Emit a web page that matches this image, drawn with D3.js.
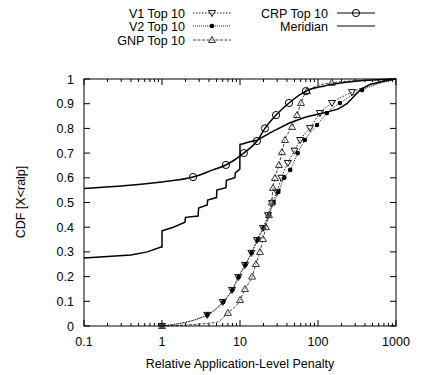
<!DOCTYPE html>
<html><head><meta charset="utf-8">
<script src="https://cdn.jsdelivr.net/npm/d3@7"></script>
<style>body{margin:0;background:#fff}svg{display:block}text{font-family:"Liberation Sans",Arial,sans-serif;fill:#000}</style>
</head><body><svg id="c" width="433" height="375"></svg>
<script>
const xTicks = [0.1, 1, 10, 100, 1000];
const yTicks = [0, 0.1, 0.2, 0.3, 0.4, 0.5, 0.6, 0.7, 0.8, 0.9, 1];
const seriesNames = ["V1 Top 10", "V2 Top 10", "GNP Top 10", "CRP Top 10", "Meridian"];
const v1 = [[1,0],[3.8,0.045],[6.0,0.097],[7.9,0.146],[9.5,0.198],[11.6,0.247],[14,0.296],[16.5,0.348],[19.7,0.397],[22.9,0.449],[25.7,0.498],[29.8,0.543],[34,0.60],[41,0.66],[50,0.71],[59,0.753],[79,0.802],[106,0.862],[151,0.903],[273,0.947],[1000,1.0]];
const v2 = [[1,0],[3.8,0.045],[6.1,0.097],[8.0,0.146],[9.6,0.198],[11.7,0.247],[14.1,0.296],[16.8,0.348],[20,0.397],[23.5,0.449],[27,0.498],[31,0.543],[37,0.60],[44,0.632],[55,0.70],[68,0.753],[97,0.814],[130,0.862],[191,0.903],[367,0.955],[1000,1.0]];
const gnp = [[1,0],[5,0.015],[7.0,0.053],[10,0.105],[11.6,0.15],[14.3,0.2],[16.0,0.251],[18.0,0.30],[19.7,0.352],[21.5,0.40],[23.5,0.449],[25.5,0.50],[26.5,0.559],[28.1,0.599],[31.6,0.652],[34.5,0.704],[37.8,0.753],[46.4,0.806],[53.8,0.854],[60.5,0.903],[72.3,0.951],[150,0.985],[1000,1.0]];
const crp = [[0.1,0.557],[0.3,0.567],[1.0,0.583],[2.5,0.603],[4.5,0.632],[6.6,0.652],[11.2,0.70],[16.5,0.749],[20.9,0.80],[29,0.854],[42.5,0.903],[70,0.951],[120,0.972],[250,0.988],[1000,1.0]];
const crpMarks = [[2.5,0.603],[6.6,0.652],[11.2,0.70],[16.5,0.749],[20.9,0.80],[29,0.854],[42.5,0.903],[70,0.951]];
const meridian = [[0.1,0.275],[0.4,0.287],[0.65,0.30],[0.97,0.32],[1.0,0.32],[1.0,0.385],[1.4,0.40],[1.97,0.42],[2.0,0.44],[2.9,0.445],[2.95,0.478],[3.8,0.49],[3.85,0.51],[5.0,0.52],[5.05,0.55],[6.6,0.56],[6.7,0.59],[8.6,0.60],[8.7,0.62],[9.95,0.635],[10,0.735],[11,0.738],[13,0.745],[16.5,0.752],[26,0.787],[43,0.822],[70,0.846],[116,0.862],[180,0.878],[235,0.9],[290,0.93],[345,0.955],[460,0.978],[700,0.992],[1000,1.0]];

const svg = d3.select("#c");
const L = 84, R = 396, T = 79, B = 326;
const x = d3.scaleLog().domain([0.1, 1000]).range([L, R]);
const y = d3.scaleLinear().domain([0, 1]).range([B, T]);

// minor ticks on x (log)
const minor = [];
for (let d = 0.1; d < 1000; d *= 10) for (let k = 2; k <= 9; k++) minor.push(d * k);
const g = svg.append("g");
minor.forEach(v => {
  g.append("line").attr("x1", x(v)).attr("x2", x(v)).attr("y1", B).attr("y2", B - 3).attr("stroke", "#000");
  g.append("line").attr("x1", x(v)).attr("x2", x(v)).attr("y1", T).attr("y2", T + 3).attr("stroke", "#000");
});
xTicks.forEach(v => {
  g.append("line").attr("x1", x(v)).attr("x2", x(v)).attr("y1", B).attr("y2", B - 6).attr("stroke", "#000");
  g.append("line").attr("x1", x(v)).attr("x2", x(v)).attr("y1", T).attr("y2", T + 6).attr("stroke", "#000");
  g.append("text").attr("x", x(v)).attr("y", 346).attr("text-anchor", "middle").attr("font-size", 12.5).text(v);
});
yTicks.forEach(v => {
  g.append("line").attr("x1", L).attr("x2", L + 6).attr("y1", y(v)).attr("y2", y(v)).attr("stroke", "#000");
  g.append("line").attr("x1", R).attr("x2", R - 6).attr("y1", y(v)).attr("y2", y(v)).attr("stroke", "#000");
  g.append("text").attr("x", 74).attr("y", y(v) + 4.5).attr("text-anchor", "end").attr("font-size", 12.5).text(v);
});

const clip = svg.append("clipPath").attr("id", "pc").append("rect").attr("x", L).attr("y", T - 3).attr("width", R - L).attr("height", B - T + 6);
const plot = svg.append("g").attr("clip-path", "url(#pc)");
const lineM = d3.line().x(d => x(d[0])).y(d => y(d[1])).curve(d3.curveMonotoneX);
const lineL = d3.line().x(d => x(d[0])).y(d => y(d[1]));

const styles = [
  {data: v1, dash: "1.5,1.5", col: "#222", mk: "tdown"},
  {data: v2, dash: "1,1", col: "#222", mk: "dot"},
  {data: gnp, dash: "3,1.5", col: "#444", mk: "tup"},
];
function marker(sel, type, cx, cy) {
  if (type === "tdown") sel.append("path").attr("d", `M${cx-3.5},${cy-2.5}L${cx+3.5},${cy-2.5}L${cx},${cy+3.5}Z`).attr("fill", "#fff").attr("fill-opacity", 0.3).attr("stroke", "#111").attr("stroke-width", 1);
  else if (type === "tup") sel.append("path").attr("d", `M${cx-3.5},${cy+2.5}L${cx+3.5},${cy+2.5}L${cx},${cy-3.5}Z`).attr("fill", "#fff").attr("fill-opacity", 0.3).attr("stroke", "#333").attr("stroke-width", 1);
  else if (type === "dot") sel.append("circle").attr("cx", cx).attr("cy", cy).attr("r", 2.3).attr("fill", "#000");
  else if (type === "circ") sel.append("circle").attr("cx", cx).attr("cy", cy).attr("r", 3.6).attr("fill", "none").attr("stroke", "#000").attr("stroke-width", 1);
}
styles.forEach(s => {
  plot.append("path").attr("d", lineM(s.data)).attr("fill", "none").attr("stroke", s.col).attr("stroke-width", 1).attr("stroke-dasharray", s.dash);
});
styles.forEach(s => {
  s.data.forEach(d => { if (d[0] < 1000 && !(d[1] > 0 && d[1] < 0.03)) marker(plot, s.mk, x(d[0]), y(d[1])); });
});
plot.append("path").attr("d", lineL(meridian)).attr("fill", "none").attr("stroke", "#000").attr("stroke-width", 1.5);
plot.append("path").attr("d", lineM(crp)).attr("fill", "none").attr("stroke", "#000").attr("stroke-width", 1.5);
crpMarks.forEach(d => marker(plot, "circ", x(d[0]), y(d[1])));

svg.append("rect").attr("x", L).attr("y", T).attr("width", R - L).attr("height", B - T).attr("fill", "none").attr("stroke", "#000").attr("stroke-width", 1);

svg.append("text").attr("x", 240).attr("y", 368).attr("text-anchor", "middle").attr("font-size", 12.5).text("Relative Application-Level Penalty");
svg.append("text").attr("transform", "translate(25,202) rotate(-90)").attr("text-anchor", "middle").attr("font-size", 12.5).text("CDF [X<ralp]");

// legend
const leg = svg.append("g");
const legItems = [
  {name: seriesNames[0], x0: 185, y0: 13, s: styles[0], lx: 193, lw: 38},
  {name: seriesNames[1], x0: 185, y0: 26, s: styles[1], lx: 193, lw: 38},
  {name: seriesNames[2], x0: 185, y0: 40, s: styles[2], lx: 193, lw: 38},
  {name: seriesNames[3], x0: 328, y0: 13, s: {dash: null, col: "#000", mk: "circ"}, lx: 337, lw: 38},
  {name: seriesNames[4], x0: 328, y0: 26, s: {dash: null, col: "#000", mk: null}, lx: 337, lw: 38},
];
legItems.forEach(it => {
  leg.append("text").attr("x", it.x0).attr("y", it.y0 + 4.5).attr("text-anchor", "end").attr("font-size", 12.5).text(it.name);
  const ln = leg.append("line").attr("x1", it.lx).attr("x2", it.lx + it.lw).attr("y1", it.y0).attr("y2", it.y0).attr("stroke", it.s.col).attr("stroke-width", 1);
  if (it.s.dash) ln.attr("stroke-dasharray", it.s.dash);
  if (it.s.mk) marker(leg, it.s.mk, it.lx + it.lw / 2, it.y0);
});
</script></body></html>
